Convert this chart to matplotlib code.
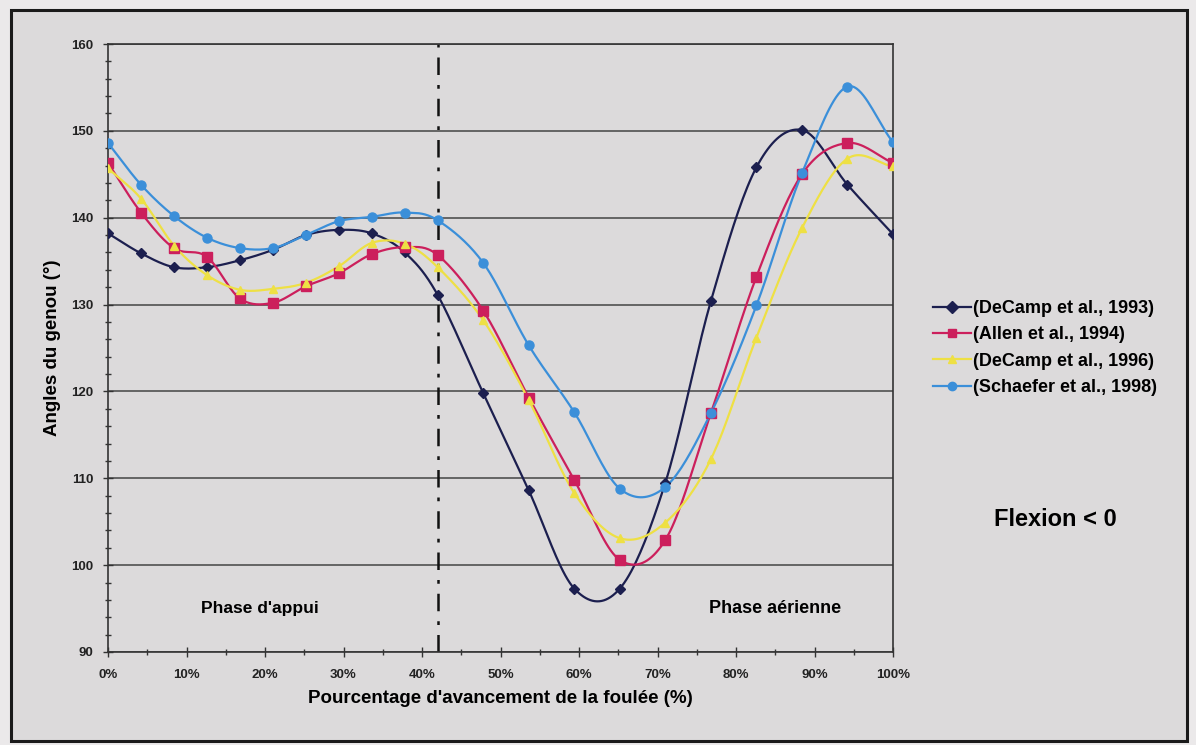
import numpy as np
import matplotlib
matplotlib.use("Agg")
import matplotlib.pyplot as plt
from matplotlib.patches import Rectangle

plt.rcParams['font.family'] = ['Liberation Sans', 'DejaVu Sans']

# stride percentage (stance 0-42 %, swing 42-100 %)
x_pct = [0, 4.2, 8.4, 12.6, 16.8, 21.0, 25.2, 29.4, 33.6, 37.8, 42.0,
         47.8, 53.6, 59.4, 65.2, 71.0, 76.8, 82.6, 88.4, 94.2, 100.0]

decamp_1993 = [138.2, 135.9, 134.3, 134.3, 135.1, 136.3, 138.0, 138.6, 138.2, 136.0, 131.1,
               119.8, 108.6, 97.3, 97.3, 109.5, 130.4, 145.8, 150.1, 143.8, 138.1]
allen_1994 = [146.3, 140.6, 136.5, 135.5, 130.7, 130.2, 132.1, 133.6, 135.8, 136.6, 135.7,
              129.3, 119.3, 109.8, 100.6, 102.9, 117.5, 133.2, 145.0, 148.6, 146.3]
decamp_1996 = [145.7, 142.2, 136.8, 133.4, 131.7, 131.8, 132.5, 134.4, 137.1, 137.0, 134.3,
               128.2, 119.0, 108.3, 103.1, 104.9, 112.2, 126.2, 138.8, 146.8, 145.9]
schaefer_1998 = [148.6, 143.8, 140.2, 137.7, 136.5, 136.5, 138.0, 139.6, 140.1, 140.6, 139.7,
                 134.8, 125.3, 117.6, 108.8, 109.0, 117.5, 129.9, 145.1, 155.1, 148.7]

labels = ["(DeCamp et al., 1993)", "(Allen et al., 1994)",
          "(DeCamp et al., 1996)", "(Schaefer et al., 1998)"]
series = [decamp_1993, allen_1994, decamp_1996, schaefer_1998]
colors = ["#1c1f4f", "#cc1f5c", "#eee044", "#3b8fd9"]
markers = ["D", "s", "^", "o"]
msizes = [5, 7, 6, 6.5]

y_ticks = [90, 100, 110, 120, 130, 140, 150, 160]
x_ticks = [0, 10, 20, 30, 40, 50, 60, 70, 80, 90, 100]
x_tick_labels = [f"{v}%" for v in x_ticks]
phase_split = 42


def smooth(xs, ys, n=20):
    """Catmull-Rom rendering of an Excel-style smoothed line."""
    xs = np.asarray(xs, float)
    ys = np.asarray(ys, float)
    px = np.concatenate([[2 * xs[0] - xs[1]], xs, [2 * xs[-1] - xs[-2]]])
    py = np.concatenate([[2 * ys[0] - ys[1]], ys, [2 * ys[-1] - ys[-2]]])
    ox, oy = [], []
    t = np.linspace(0, 1, n, endpoint=False)
    for i in range(1, len(px) - 2):
        for P, out in ((px, ox), (py, oy)):
            p0, p1, p2, p3 = P[i - 1], P[i], P[i + 1], P[i + 2]
            v = 0.5 * ((2 * p1) + (-p0 + p2) * t + (2 * p0 - 5 * p1 + 4 * p2 - p3) * t ** 2
                       + (-p0 + 3 * p1 - 3 * p2 + p3) * t ** 3)
            out.extend(v)
    ox.append(xs[-1])
    oy.append(ys[-1])
    return np.array(ox), np.array(oy)


W, H = 1196, 745
fig = plt.figure(figsize=(W / 100, H / 100), dpi=100)
fig.patch.set_facecolor("#ebe9ea")
bg = "#dcdadb"
fig.patches.append(Rectangle((11 / W, 4 / H), 1176 / W, 731 / H, transform=fig.transFigure,
                             facecolor=bg, edgecolor="#1a1a1a", linewidth=2.2, zorder=-5))

ax = fig.add_axes([108 / W, 1 - 652 / H, 785 / W, 608 / H])
ax.set_facecolor(bg)
ax.set_zorder(1)

for ys, lab, c, m, ms in zip(series, labels, colors, markers, msizes):
    sx, sy = smooth(x_pct, ys)
    ax.plot(sx, sy, color=c, lw=1.6, zorder=3)
    ax.plot(x_pct, ys, linestyle="none", marker=m, color=c, markersize=ms, zorder=4)
    ax.plot([], [], color=c, lw=1.6, marker=m, markersize=ms, label=lab)

ax.axvline(phase_split, color="#111111", lw=1.8, linestyle=(0, (7, 4, 1.5, 4)), zorder=2)

ax.set_xlim(0, 100)
ax.set_ylim(90, 160)
ax.set_yticks(y_ticks)
ax.set_yticks(np.arange(90, 161, 2), minor=True)
ax.set_xticks(x_ticks)
ax.set_xticks(np.arange(0, 101, 5), minor=True)
ax.set_xticklabels(x_tick_labels)
ax.grid(axis="y", which="major", color="#444444", lw=1.1, zorder=1)
ax.tick_params(axis="both", which="both", direction="inout", colors="#333333",
               labelcolor="#222222", labelsize=9.5)
ax.tick_params(axis="both", which="major", length=7, width=1)
ax.tick_params(axis="both", which="minor", length=5, width=1)
ax.tick_params(axis="x", pad=9)
ax.tick_params(axis="y", pad=7)
for lab in ax.get_xticklabels() + ax.get_yticklabels():
    lab.set_fontweight("bold")
for s in ax.spines.values():
    s.set_color("#333333")
    s.set_linewidth(1.2)

ax.set_ylabel("Angles du genou (°)", fontsize=13.5, fontweight="bold", labelpad=7)
ax.set_xlabel("Pourcentage d'avancement de la foulée (%)", fontsize=13.5,
              fontweight="bold", labelpad=6)

ax.text(19.4, 95.0, "Phase d'appui", fontsize=12.5, fontweight="bold", ha="center", va="center")
ax.text(85.0, 95.0, "Phase aérienne", fontsize=13, fontweight="bold", ha="center", va="center")

fig.text(1055 / W, 1 - 520 / H, "Flexion < 0", fontsize=17, fontweight="bold",
         ha="center", va="center")

leg = fig.legend(loc="center left", bbox_to_anchor=(933 / W, 1 - 348 / H), frameon=False,
                 fontsize=13, handlelength=2.1, handletextpad=0.1, labelspacing=0.52,
                 borderaxespad=0, borderpad=0)
for t in leg.get_texts():
    t.set_fontweight("bold")
for h in leg.legend_handles:
    h.set_markersize(6)

fig.savefig("out.png", dpi=100, facecolor=fig.get_facecolor())
